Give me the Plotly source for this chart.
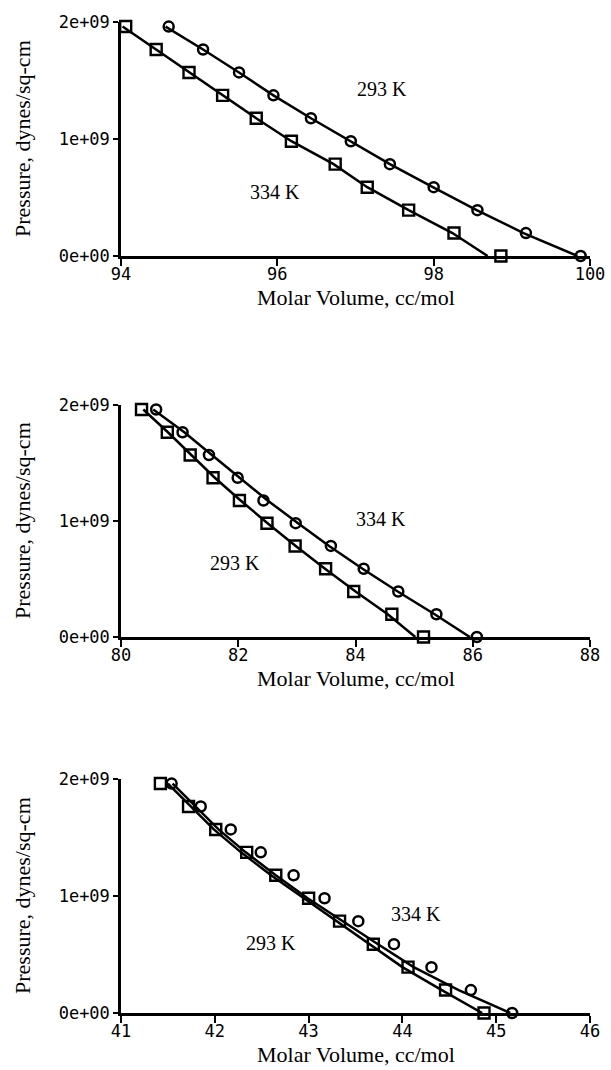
import plotly.graph_objects as go

# Pressure levels (dynes/sq-cm), shared by all panels
pressure = [1.961e9, 1.765e9, 1.569e9, 1.373e9, 1.177e9, 0.981e9,
            0.785e9, 0.588e9, 0.392e9, 0.196e9, 0.0]

# Panel 1 (94-100 cc/mol)
p1_square_v = [94.06, 94.45, 94.87, 95.30, 95.73, 96.18, 96.74, 97.15, 97.68, 98.26, 98.86]
p1_circle_v = [94.61, 95.05, 95.51, 95.95, 96.43, 96.94, 97.44, 98.00, 98.56, 99.18, 99.88]
p1_square_line = [94.02, 94.45, 94.87, 95.30, 95.73, 96.18, 96.72, 97.15, 97.68, 98.24, 98.69]
p1_circle_line = [94.57, 95.05, 95.51, 95.95, 96.43, 96.94, 97.44, 97.99, 98.55, 99.15, 99.84]

# Panel 2 (80-88 cc/mol)
p2_square_v = [80.35, 80.79, 81.18, 81.57, 82.02, 82.49, 82.97, 83.49, 83.97, 84.62, 85.16]
p2_circle_v = [80.60, 81.05, 81.50, 81.99, 82.43, 82.98, 83.58, 84.14, 84.73, 85.38, 86.07]
p2_square_line = [80.38, 80.80, 81.20, 81.60, 82.04, 82.50, 82.98, 83.48, 84.00, 84.55, 85.02]
p2_circle_line = [80.55, 81.08, 81.55, 82.03, 82.50, 83.02, 83.55, 84.12, 84.72, 85.35, 85.95]

# Panel 3 (41-46 cc/mol)
p3_square_v = [41.42, 41.72, 42.01, 42.34, 42.65, 43.00, 43.33, 43.69, 44.06, 44.46, 44.87]
p3_circle_v = [41.54, 41.85, 42.17, 42.49, 42.84, 43.17, 43.53, 43.91, 44.31, 44.73, 45.17]
p3_square_line = [41.50, 41.74, 41.99, 42.28, 42.60, 42.95, 43.30, 43.65, 44.00, 44.42, 44.85]
p3_circle_line = [41.55, 41.79, 42.04, 42.33, 42.65, 42.99, 43.36, 43.74, 44.12, 44.60, 45.15]

x_ranges = [[94, 100], [80, 88], [41, 46]]
x_ticks = [[94, 96, 98, 100], [80, 82, 84, 86, 88], [41, 42, 43, 44, 45, 46]]
y_ticks = [0, 1e9, 2e9]
y_ticktext = ["0e+00", "1e+09", "2e+09"]

# text labels: (panel, text, volume, pressure)
labels = [
    (1, "293 K", 97.34, 1.43e9), (1, "334 K", 95.97, 0.55e9),
    (2, "334 K", 84.43, 1.02e9), (2, "293 K", 81.95, 0.64e9),
    (3, "293 K", 42.60, 0.60e9), (3, "334 K", 44.15, 0.85e9),
]

panels = [
    (p1_square_v, p1_circle_v, p1_square_line, p1_circle_line),
    (p2_square_v, p2_circle_v, p2_square_line, p2_circle_line),
    (p3_square_v, p3_circle_v, p3_square_line, p3_circle_line),
]

W, H = 611, 1070
x_dom = [121 / W, 590 / W]
y_doms = [[1 - 256 / H, 1 - 22 / H], [1 - 637 / H, 1 - 405 / H], [1 - 1013 / H, 1 - 779 / H]]

TICKFONT = dict(family="DejaVu Sans Mono", size=17, color="black")
SERIF = "Liberation Serif"

fig = go.Figure()
layout = dict(
    width=W, height=H, margin=dict(l=0, r=0, t=0, b=0),
    paper_bgcolor="white", plot_bgcolor="white", showlegend=False,
)
annotations = []

for i, (sq_v, ci_v, sq_l, ci_l) in enumerate(panels):
    n = i + 1
    xa = "x" if n == 1 else f"x{n}"
    ya = "y" if n == 1 else f"y{n}"
    for lv in (sq_l, ci_l):
        fig.add_trace(go.Scatter(x=lv, y=pressure, mode="lines", xaxis=xa, yaxis=ya,
                                 line=dict(color="black", width=2.5), cliponaxis=False))
    fig.add_trace(go.Scatter(x=sq_v, y=pressure, mode="markers", xaxis=xa, yaxis=ya,
                             cliponaxis=False,
                             marker=dict(symbol="square-open", size=11, color="black",
                                         line=dict(width=2.4, color="black"))))
    fig.add_trace(go.Scatter(x=ci_v, y=pressure, mode="markers", xaxis=xa, yaxis=ya,
                             cliponaxis=False,
                             marker=dict(symbol="circle-open", size=10, color="black",
                                         line=dict(width=2.5, color="black"))))

    key_x = "xaxis" if n == 1 else f"xaxis{n}"
    key_y = "yaxis" if n == 1 else f"yaxis{n}"
    layout[key_x] = dict(
        domain=x_dom, anchor=ya, range=x_ranges[i], tickvals=x_ticks[i],
        ticks="outside", ticklen=7, tickwidth=2, tickcolor="black",
        showline=True, linecolor="black", linewidth=2.5, showgrid=False, zeroline=False,
        tickfont=TICKFONT, ticklabelstandoff=-6, automargin=False, fixedrange=True,
    )
    layout[key_y] = dict(
        domain=y_doms[i], anchor=xa, range=[0, 2e9], tickvals=y_ticks, ticktext=y_ticktext,
        ticks="outside", ticklen=5, tickwidth=2, tickcolor="black",
        showline=True, linecolor="black", linewidth=2.5, showgrid=False, zeroline=False,
        tickfont=TICKFONT, automargin=False, fixedrange=True,
    )
    # overlay axes giving the inner half of the cross ticks
    ox, oy = 3 + n, 3 + n
    layout[f"xaxis{ox}"] = dict(
        overlaying=xa, anchor=ya, side="bottom", range=x_ranges[i], tickvals=x_ticks[i],
        ticks="inside", ticklen=7, tickwidth=2, tickcolor="black", showticklabels=False,
        showline=False, showgrid=False, zeroline=False, fixedrange=True,
    )
    layout[f"yaxis{oy}"] = dict(
        overlaying=ya, anchor=xa, side="left", range=[0, 2e9], tickvals=y_ticks,
        ticks="inside", ticklen=5, tickwidth=2, tickcolor="black", showticklabels=False,
        showline=False, showgrid=False, zeroline=False, fixedrange=True,
    )

    annotations.append(dict(
        text="Molar Volume, cc/mol", xref=f"{xa} domain", yref=f"{ya} domain",
        x=0.5, y=0, yshift=-41, xanchor="center", yanchor="middle", showarrow=False,
        font=dict(family=SERIF, size=22, color="black")))
    annotations.append(dict(
        text="Pressure, dynes/sq-cm", xref=f"{xa} domain", yref=f"{ya} domain",
        x=0, y=0.5, xshift=-99, xanchor="center", yanchor="middle", textangle=-90,
        showarrow=False, font=dict(family=SERIF, size=22, color="black")))

for panel, txt, v, p in labels:
    xa = "x" if panel == 1 else f"x{panel}"
    ya = "y" if panel == 1 else f"y{panel}"
    annotations.append(dict(text=txt, x=v, y=p, xref=xa, yref=ya, showarrow=False,
                            font=dict(family=SERIF, size=20, color="black")))

layout["annotations"] = annotations
fig.update_layout(**layout)
fig.write_html("out.html")
